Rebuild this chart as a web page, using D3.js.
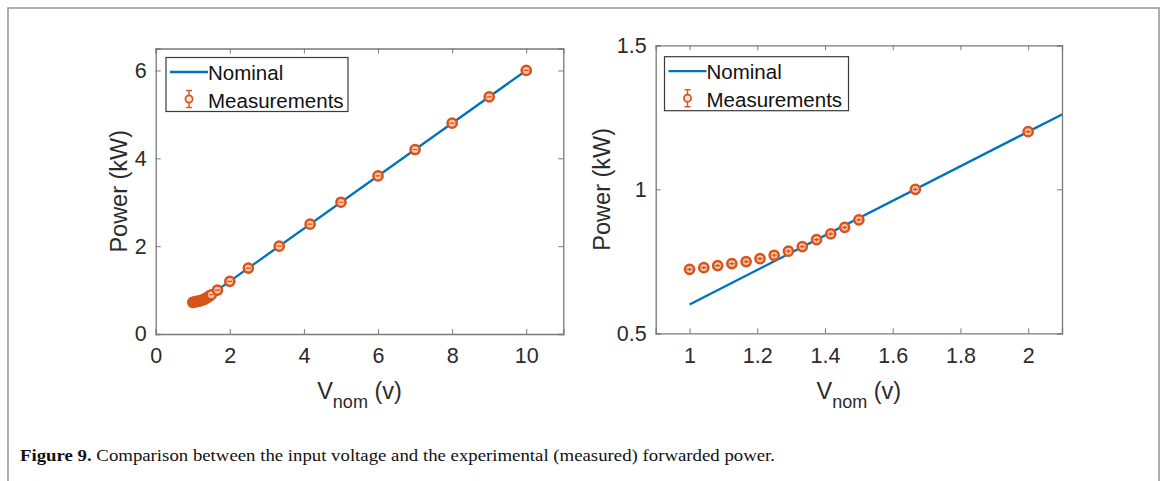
<!DOCTYPE html>
<html><head><meta charset="utf-8">
<script src="https://cdn.jsdelivr.net/npm/d3@7"></script>
<style>body{margin:0;background:#fff;overflow:hidden}</style>
</head><body>
<svg id="c" width="1167" height="481"></svg>
<script>
// ---- data ----
const nominalV = [1, 10];
const nominalP = [0.6, 6.0];
const measV = [1, 1.042, 1.083, 1.125, 1.167, 1.208, 1.25, 1.292, 1.333, 1.375, 1.417, 1.458, 1.5, 1.667, 2, 2.5, 3.333, 4.167, 5, 6, 7, 8, 9, 10];
const measP = [0.722, 0.728, 0.735, 0.742, 0.749, 0.759, 0.771, 0.785, 0.801, 0.825, 0.845, 0.868, 0.894, 1.0, 1.2, 1.5, 2.0, 2.5, 3.0, 3.6, 4.2, 4.8, 5.4, 6.0];
const measErr = [0.006, 0.006, 0.006, 0.006, 0.006, 0.006, 0.006, 0.006, 0.006, 0.006, 0.006, 0.006, 0.006, 0.006, 0.006, 0.006, 0.006, 0.006, 0.006, 0.006, 0.006, 0.006, 0.006, 0.006];
const leftXTicks = [0, 2, 4, 6, 8, 10];
const leftYTicks = [0, 2, 4, 6];
const rightXTicks = [1, 1.2, 1.4, 1.6, 1.8, 2];
const rightYTicks = [0.5, 1, 1.5];
const legendLabels = ["Nominal", "Measurements"];
const yLabel = "Power (kW)";
const caption = ["Figure 9.", " Comparison between the input voltage and the experimental (measured) forwarded power."];

const BLUE = "#0072BD", ORANGE = "#D95319", AX = "#7a7a7a", TXT = "#2b2b2b";
const FONT = "Liberation Sans, Arial, Helvetica, sans-serif";
const svg = d3.select("#c");

// outer frame
svg.append("rect").attr("x", 8).attr("y", 8).attr("width", 1151).attr("height", 500)
  .attr("fill", "none").attr("stroke", "#9a9a9a").attr("stroke-width", 1.6);

function panel(cfg, idx) {
  const x = d3.scaleLinear().domain(cfg.xDomain).range([cfg.x0, cfg.x1]);
  const y = d3.scaleLinear().domain(cfg.yDomain).range([cfg.y1, cfg.y0]);
  const g = svg.append("g");
  const clipId = "clip" + idx;
  svg.append("clipPath").attr("id", clipId).append("rect")
    .attr("x", cfg.x0).attr("y", cfg.y0).attr("width", cfg.x1 - cfg.x0).attr("height", cfg.y1 - cfg.y0);

  const tl = 5;
  const fmt = d => String(d);
  const bottom = g.append("g").attr("transform", `translate(0,${cfg.y1})`)
    .call(d3.axisBottom(x).tickValues(cfg.xTicks).tickSize(-tl).tickPadding(14).tickFormat(fmt));
  const top = g.append("g").attr("transform", `translate(0,${cfg.y0})`)
    .call(d3.axisTop(x).tickValues(cfg.xTicks).tickSize(-tl).tickFormat(""));
  const left = g.append("g").attr("transform", `translate(${cfg.x0},0)`)
    .call(d3.axisLeft(y).tickValues(cfg.yTicks).tickSize(-tl).tickPadding(9).tickFormat(fmt));
  const right = g.append("g").attr("transform", `translate(${cfg.x1},0)`)
    .call(d3.axisRight(y).tickValues(cfg.yTicks).tickSize(-tl).tickFormat(""));
  [bottom, top, left, right].forEach(a => {
    a.select(".domain").attr("stroke", AX).attr("stroke-width", 1.3);
    a.selectAll(".tick line").attr("stroke", AX).attr("stroke-width", 1);
    a.selectAll(".tick text").attr("fill", TXT).attr("font-family", FONT).attr("font-size", 21.5);
  });

  const plot = g.append("g").attr("clip-path", `url(#${clipId})`);
  const line = d3.line().x(d => x(d[0])).y(d => y(d[1]));
  plot.append("path").datum(nominalV.map((v, i) => [v, nominalP[i]]))
    .attr("d", line).attr("fill", "none").attr("stroke", BLUE).attr("stroke-width", 2.3);
  const pts = measV.map((v, i) => ({v, p: measP[i], e: measErr[i]}));
  const mg = plot.selectAll("g.m").data(pts).join("g").attr("class", "m");
  mg.append("circle").attr("cx", d => x(d.v)).attr("cy", d => y(d.p)).attr("r", 4.6)
    .attr("fill", "#f6c6ae").attr("stroke", ORANGE).attr("stroke-width", 2.5);
  mg.append("line").attr("x1", d => x(d.v)).attr("x2", d => x(d.v))
    .attr("y1", d => y(d.p - d.e)).attr("y2", d => y(d.p + d.e)).attr("stroke", ORANGE).attr("stroke-width", 1.2);
  mg.append("line").attr("x1", d => x(d.v) - 2.5).attr("x2", d => x(d.v) + 2.5)
    .attr("y1", d => y(d.p)).attr("y2", d => y(d.p)).attr("stroke", ORANGE).attr("stroke-width", 1.2);

  const lg = g.append("g").attr("transform", `translate(${cfg.legX},${cfg.legY})`);
  lg.append("rect").attr("width", cfg.legW).attr("height", 54).attr("fill", "#fff")
    .attr("stroke", "#3a3a3a").attr("stroke-width", 1.2);
  lg.append("line").attr("x1", 4).attr("x2", 42).attr("y1", 14.5).attr("y2", 14.5)
    .attr("stroke", BLUE).attr("stroke-width", 2.3);
  lg.append("line").attr("x1", 23).attr("x2", 23).attr("y1", 33).attr("y2", 50).attr("stroke", ORANGE).attr("stroke-width", 1.4);
  [33, 50].forEach(yy => lg.append("line").attr("x1", 20).attr("x2", 26).attr("y1", yy).attr("y2", yy).attr("stroke", ORANGE).attr("stroke-width", 1.4));
  lg.append("circle").attr("cx", 23).attr("cy", 41.5).attr("r", 3.6).attr("fill", "#fbe3d7").attr("stroke", ORANGE).attr("stroke-width", 1.7);
  legendLabels.forEach((t, i) => lg.append("text").attr("x", 42).attr("y", 22.5 + i * 27.5)
    .attr("font-family", FONT).attr("font-size", 20.5).attr("fill", "#111").text(t));

  g.append("text").attr("transform", `translate(${cfg.yLabX},${(cfg.y0 + cfg.y1) / 2}) rotate(-90)`)
    .attr("text-anchor", "middle").attr("font-family", FONT).attr("font-size", 23.5).attr("fill", TXT).text(yLabel);
  const xl = g.append("text").attr("x", (cfg.x0 + cfg.x1) / 2).attr("y", 399).attr("text-anchor", "middle")
    .attr("font-family", FONT).attr("font-size", 23.5).attr("fill", TXT);
  xl.append("tspan").text("V");
  xl.append("tspan").attr("dy", 9).attr("font-size", 18).text("nom");
  xl.append("tspan").attr("dy", -9).text(" (v)");
}

panel({x0: 155.7, x1: 563.3, y0: 48.5, y1: 334, xDomain: [0, 11], yDomain: [0, 6.5],
  xTicks: leftXTicks, yTicks: leftYTicks, legX: 166, legY: 57.5, legW: 182, yLabX: 127}, 0);
panel({x0: 655.7, x1: 1062, y0: 45.3, y1: 333.3, xDomain: [0.9, 2.1], yDomain: [0.5, 1.5],
  xTicks: rightXTicks, yTicks: rightYTicks, legX: 664.5, legY: 56.7, legW: 184, yLabX: 610}, 1);

const cap = svg.append("text").attr("x", 20).attr("y", 461).attr("font-family", "Liberation Serif, Times New Roman, serif")
  .attr("font-size", 17.5).attr("fill", "#111");
cap.append("tspan").attr("font-weight", "bold").text(caption[0]);
cap.append("tspan").text(caption[1]);
cap.attr("textLength", 755).attr("lengthAdjust", "spacingAndGlyphs");
</script>
</body></html>
